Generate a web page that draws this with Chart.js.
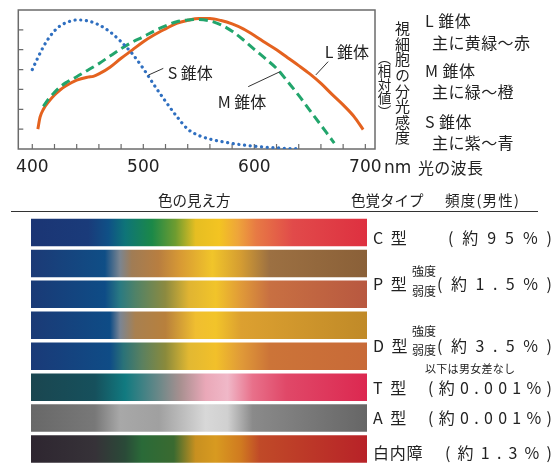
<!DOCTYPE html>
<html lang="ja">
<head>
<meta charset="utf-8">
<script src="https://cdn.jsdelivr.net/npm/chart.js@4/dist/chart.umd.min.js"></script>
<style>
  body { margin: 0; background: #fff; }
  #wrap { position: relative; width: 560px; height: 466px; overflow: hidden; font-family: "Noto Sans CJK JP", sans-serif; color: #222; }
  #wrap canvas { position: absolute; left: 0; }
  .t { position: absolute; white-space: nowrap; }
  .s { position: absolute; display: flex; justify-content: space-between; white-space: nowrap; }
  .v { position: absolute; writing-mode: vertical-rl; white-space: nowrap; }
  .rule { position: absolute; left: 11px; top: 211px; width: 527px; border-top: 1.5px solid #333; }
</style>
</head>
<body>
<div id="wrap">
  <canvas id="curves" width="560" height="182" style="top:0"></canvas>
  <canvas id="bars" width="560" height="286" style="top:180px"></canvas>
  <div class="rule"></div>
</div>

<script>
// x axis (nm)
const waveTicks = [400, 500, 600, 700];
const waveMinor = [400, 420, 440, 460, 480, 500, 520, 540, 560, 580, 600, 620, 640, 660, 680, 700];
const sensTicks = [1, 2, 3, 4, 5, 6];

// S cone (dotted blue)
const sWave  = [400, 405, 410, 415, 420, 425, 430, 440, 450, 460, 470, 480, 490, 500, 510, 520, 530, 540, 550, 560, 570, 580, 590, 600, 610, 620, 630, 640];
const sValue = [4.0, 4.6, 5.15, 5.6, 5.95, 6.2, 6.35, 6.5, 6.45, 6.25, 5.9, 5.4, 4.8, 4.05, 3.2, 2.4, 1.65, 1.0, 0.68, 0.5, 0.38, 0.28, 0.2, 0.14, 0.09, 0.06, 0.03, 0.01];

// M cone (dashed green)
const mWave  = [410, 415, 420, 425, 430, 440, 450, 460, 470, 480, 490, 500, 510, 520, 530, 540, 550, 560, 570, 580, 590, 600, 610, 620, 630, 640, 650, 660, 670, 672];
const mValue = [2.15, 2.55, 2.85, 3.12, 3.33, 3.64, 3.97, 4.3, 4.68, 5.05, 5.38, 5.65, 5.95, 6.2, 6.41, 6.5, 6.52, 6.45, 6.25, 5.93, 5.5, 5.02, 4.55, 4.06, 3.4, 2.7, 1.95, 1.2, 0.45, 0.3];

// L cone (solid orange)
const lWave  = [405, 407, 410, 415, 420, 425, 430, 440, 450, 455, 460, 470, 480, 490, 500, 510, 520, 530, 540, 550, 560, 570, 580, 590, 600, 610, 620, 630, 640, 650, 660, 670, 680, 690, 698];
const lValue = [1.0, 1.6, 2.0, 2.4, 2.72, 2.97, 3.17, 3.47, 3.62, 3.66, 3.78, 4.12, 4.57, 4.98, 5.4, 5.75, 6.05, 6.33, 6.48, 6.57, 6.57, 6.47, 6.3, 6.05, 5.72, 5.35, 5.0, 4.6, 4.2, 3.78, 3.3, 2.75, 2.22, 1.62, 0.98];

// colour vision rows
const visionTypes = ['C型', 'P型 強度', 'P型 弱度', 'D型 強度', 'D型 弱度', 'T型', 'A型', '白内障'];
const spectrumSpan = [1, 1, 1, 1, 1, 1, 1, 1];

// how each type sees the spectrum, left -> right
const spectrumStops = [
  [[0, '#1b3574'], [0.17, '#1a3b7a'], [0.23, '#0f5086'], [0.28, '#0e7478'], [0.36, '#1b8848'], [0.43, '#6e9c30'], [0.49, '#e6be22'], [0.56, '#f3c422'], [0.615, '#eea53a'], [0.67, '#e77a44'], [0.78, '#e14a4a'], [1, '#de3040']],
  [[0, '#1c3a76'], [0.22, '#0f4e86'], [0.265, '#7b8590'], [0.30, '#a07c55'], [0.38, '#b87e40'], [0.445, '#d89a34'], [0.54, '#f1c52a'], [0.625, '#d49c32'], [0.71, '#9c7042'], [1, '#8a6038']],
  [[0, '#1a3a76'], [0.22, '#0e4c86'], [0.265, '#2a7a82'], [0.31, '#4f8268'], [0.40, '#8c8a40'], [0.47, '#e0b432'], [0.55, '#f1c42a'], [0.625, '#e09a38'], [0.71, '#c87042'], [1, '#b85840']],
  [[0, '#1b3a76'], [0.235, '#0e4c86'], [0.265, '#7a8594'], [0.31, '#a88050'], [0.40, '#b8803c'], [0.49, '#f0be30'], [0.55, '#f2c42a'], [0.625, '#dca030'], [1, '#c08a28']],
  [[0, '#1a3a78'], [0.235, '#0f4c86'], [0.275, '#2a7278'], [0.33, '#5a8060'], [0.40, '#8a8a3c'], [0.47, '#e2b832'], [0.55, '#f2c02a'], [0.625, '#e09a38'], [0.71, '#cc7438'], [1, '#c86a38']],
  [[0, '#1a4650'], [0.19, '#16505c'], [0.28, '#117a80'], [0.38, '#6a8888'], [0.445, '#a89090'], [0.52, '#eaa8b8'], [0.585, '#f0b8c8'], [0.66, '#e8708a'], [0.76, '#e04868'], [1, '#dc2850']],
  [[0, '#686868'], [0.19, '#787878'], [0.265, '#a8a8a8'], [0.38, '#a0a0a0'], [0.52, '#d8d8d8'], [0.585, '#d0d0d0'], [0.66, '#8a8a8a'], [1, '#666666']],
  [[0, '#2e2630'], [0.19, '#363238'], [0.28, '#2a4a38'], [0.33, '#2a6a38'], [0.425, '#3a6a30'], [0.49, '#c89020'], [0.55, '#d89a20'], [0.625, '#d07a20'], [0.68, '#c04a28'], [1, '#b82228']]
];

const JP = '"Noto Sans CJK JP", sans-serif';
const toXY = (w, v) => w.map((x, i) => ({ x: x, y: v[i] }));

// curve name tags, in data units
const curveTags = [
  { text: 'S 錐体', at: [522, 3.81], from: [504.5, 3.72], to: [518, 4.06] },
  { text: 'M 錐体', at: [567, 2.38], from: [594.5, 3.14], to: [623, 3.89] },
  { text: 'L 錐体', at: [663.5, 4.9], from: [655.4, 3.73], to: [666.5, 4.4] }
];

const framePlugin = {
  id: 'frame',
  beforeDatasetsDraw(chart) {
    const { ctx, chartArea: a, scales: { x, y } } = chart;
    ctx.save();
    ctx.strokeStyle = '#6b6b6b';
    ctx.lineWidth = 1.5;
    ctx.strokeRect(a.left, a.top, a.right - a.left, a.bottom - a.top);
    ctx.lineWidth = 1.2;
    ctx.beginPath();
    waveMinor.forEach(w => {
      const px = x.getPixelForValue(w);
      ctx.moveTo(px, a.bottom);
      ctx.lineTo(px, a.bottom - 5);
    });
    sensTicks.forEach(s => {
      const py = y.getPixelForValue(s);
      ctx.moveTo(a.left, py);
      ctx.lineTo(a.left + 5, py);
    });
    ctx.stroke();
    ctx.restore();
  },
  afterDatasetsDraw(chart) {
    const { ctx, scales: { x, y } } = chart;
    ctx.save();
    ctx.strokeStyle = '#333';
    ctx.lineWidth = 1;
    ctx.fillStyle = '#222';
    ctx.font = '16px ' + JP;
    ctx.textBaseline = 'middle';
    curveTags.forEach(t => {
      ctx.beginPath();
      ctx.moveTo(x.getPixelForValue(t.from[0]), y.getPixelForValue(t.from[1]));
      ctx.lineTo(x.getPixelForValue(t.to[0]), y.getPixelForValue(t.to[1]));
      ctx.stroke();
      ctx.fillText(t.text, x.getPixelForValue(t.at[0]), y.getPixelForValue(t.at[1]));
    });
    ctx.restore();
  }
};

new Chart(document.getElementById('curves'), {
  type: 'line',
  data: {
    datasets: [
      { label: 'S錐体', data: toXY(sWave, sValue), borderColor: '#2f6fc0', borderWidth: 3.2, borderDash: [0.1, 5.6], borderCapStyle: 'round', cubicInterpolationMode: 'monotone', pointRadius: 0 },
      { label: 'M錐体', data: toXY(mWave, mValue), borderColor: '#22a56c', borderWidth: 3, borderDash: [9, 5], cubicInterpolationMode: 'monotone', pointRadius: 0 },
      { label: 'L錐体', data: toXY(lWave, lValue), borderColor: '#e4621f', borderWidth: 3, cubicInterpolationMode: 'monotone', pointRadius: 0 }
    ]
  },
  options: {
    responsive: false,
    animation: false,
    layout: { padding: { left: 18.3, top: 10, right: 185, bottom: 0 } },
    plugins: { legend: { display: false }, tooltip: { enabled: false } },
    scales: {
      x: {
        type: 'linear', min: 387.4, max: 708.7,
        afterBuildTicks: s => { s.ticks = waveMinor.map(v => ({ value: v })); },
        afterFit: s => { s.height = 33; },
        grid: { display: false, drawTicks: false },
        border: { display: false },
        ticks: {
          autoSkip: false, maxRotation: 0, padding: 8, color: '#222',
          font: { family: '"DejaVu Sans"', size: 17 },
          callback: v => waveTicks.includes(v) ? String(v) : ''
        }
      },
      y: { display: false, min: 0, max: 7 }
    }
  },
  plugins: [framePlugin]
});

new Chart(document.getElementById('bars'), {
  type: 'bar',
  data: {
    labels: visionTypes,
    datasets: [{
      data: spectrumSpan,
      barPercentage: 0.89,
      categoryPercentage: 1,
      backgroundColor: c => {
        const a = c.chart.chartArea;
        if (!a) return '#888';
        const g = c.chart.ctx.createLinearGradient(a.left, 0, a.right, 0);
        spectrumStops[c.dataIndex].forEach(([o, col]) => g.addColorStop(o, col));
        return g;
      }
    }]
  },
  options: {
    indexAxis: 'y',
    responsive: false,
    animation: false,
    layout: { padding: { left: 31, right: 193, top: 37, bottom: 1.5 } },
    plugins: { legend: { display: false }, tooltip: { enabled: false } },
    scales: {
      x: { display: false, min: 0, max: 1 },
      y: { display: false }
    }
  }
});

// text around the charts: [text, left, centre y, size, letter spacing]
const notes = [
  ['nm', 384, 168.3, 17, 0, '"DejaVu Sans"'],
  ['光の波長', 418, 168.3, 16, 0.3],
  ['L 錐体', 425, 21, 16, 0.5],
  ['主に黄緑～赤', 432, 42.5, 16, 0.4],
  ['M 錐体', 425, 71, 16, 0.5],
  ['主に緑～橙', 432, 91.7, 16, 0.4],
  ['S 錐体', 425, 121.7, 16, 0.5],
  ['主に紫～青', 432, 143.3, 16, 0.4],
  ['色の見え方', 158, 201, 14.5, 0],
  ['色覚タイプ', 351, 201, 14.5, 0],
  ['頻度(男性)', 445, 201, 14.5, 1.2],
  ['C 型', 373, 238, 16, 2],
  ['強度', 412, 272, 12, 0],
  ['P 型', 373, 284.3, 16, 2],
  ['弱度', 412, 291.5, 12, 0],
  ['強度', 412, 331.7, 12, 0],
  ['D 型', 373, 346, 16, 2],
  ['弱度', 412, 351, 12, 0],
  ['以下は男女差なし', 425, 369.3, 11, 0.3],
  ['T 型', 373, 387.7, 16, 2],
  ['A 型', 373, 417.7, 16, 2],
  ['白内障', 373, 452.7, 16, 0.7]
];

// frequencies, spread evenly from left edge to x = 552
const freqNotes = [
  ['(約95%)', 448, 238],
  ['(約1.5%)', 437, 284.3],
  ['(約3.5%)', 437, 346],
  ['(約0.001%)', 428, 387.7],
  ['(約0.001%)', 428, 417.7],
  ['(約1.3%)', 445, 452.7]
];

const wrap = document.getElementById('wrap');
notes.forEach(([text, left, cy, size, ls, fam]) => {
  const d = document.createElement('div');
  d.className = 't';
  d.textContent = text;
  d.style.left = left + 'px';
  d.style.top = (cy - size * 0.56) + 'px';
  d.style.fontSize = size + 'px';
  d.style.lineHeight = size + 'px';
  d.style.letterSpacing = ls + 'px';
  if (fam) d.style.fontFamily = fam;
  wrap.appendChild(d);
});

freqNotes.forEach(([text, left, cy]) => {
  const d = document.createElement('div');
  d.className = 's';
  d.style.left = left + 'px';
  d.style.width = (552 - left) + 'px';
  d.style.top = (cy - 16 * 0.56) + 'px';
  d.style.fontSize = '16px';
  d.style.lineHeight = '16px';
  [...text].forEach(ch => {
    const s = document.createElement('span');
    s.textContent = ch;
    d.appendChild(s);
  });
  wrap.appendChild(d);
});

// vertical axis caption
[['視細胞の分光感度', 395, 21, 15, 0.6], ['（相対値）', 377, 51, 13.5, 0]].forEach(([text, left, top, size, ls]) => {
  const d = document.createElement('div');
  d.className = 'v';
  d.textContent = text;
  d.style.left = left + 'px';
  d.style.top = top + 'px';
  d.style.fontSize = size + 'px';
  d.style.lineHeight = size + 'px';
  d.style.letterSpacing = ls + 'px';
  wrap.appendChild(d);
});
</script>
</body>
</html>
